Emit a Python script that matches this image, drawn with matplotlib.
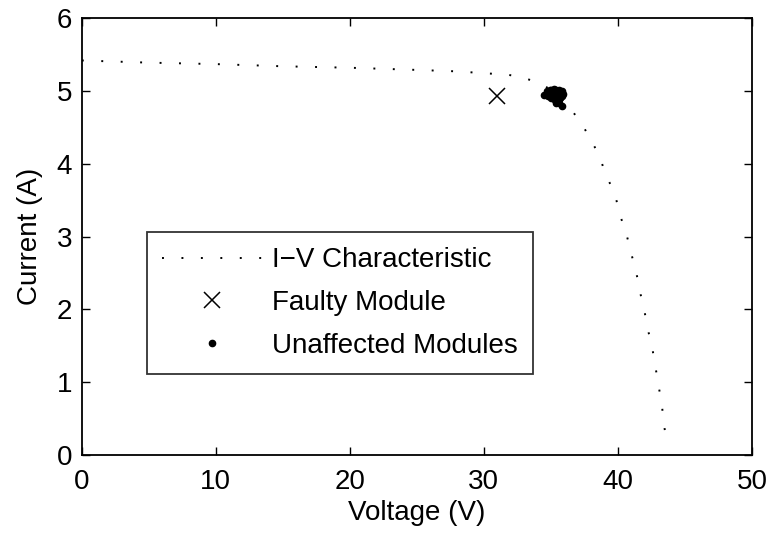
import matplotlib.pyplot as plt

plt.rcParams['font.family'] = ['Liberation Sans', 'DejaVu Sans']

# I-V characteristic
iv_voltage = [0.0, 5.0, 10.0, 15.0, 20.0, 25.0, 28.0, 30.4, 31.6, 32.8, 34.0, 35.0,
              36.0, 36.7, 37.4, 38.0, 38.6, 39.0, 39.5, 39.9, 40.2, 40.6, 40.9,
              41.2, 41.5, 41.7, 42.0, 42.2, 42.5, 42.7, 42.9, 43.1, 43.3, 43.4, 43.7]
iv_current = [5.42, 5.39, 5.37, 5.34, 5.32, 5.29, 5.27, 5.24, 5.23, 5.19, 5.12, 5.02,
              4.87, 4.70, 4.52, 4.32, 4.12, 3.90, 3.69, 3.49, 3.27, 3.06, 2.84,
              2.62, 2.40, 2.20, 1.96, 1.74, 1.54, 1.32, 1.10, 0.88, 0.66, 0.44, 0.15]

# faulty module
faulty_v = [31.0]
faulty_i = [4.93]

# unaffected modules (cluster near MPP)
ok_v = [34.5, 34.7, 34.9, 35.0, 35.1, 35.2, 35.3, 35.4, 35.5, 35.6, 35.7, 35.8,
        34.8, 35.0, 35.2, 35.4, 35.6, 35.8, 35.1, 35.3, 35.5, 35.7, 35.9, 35.4,
        35.6, 35.2, 34.9, 35.8, 35.5, 35.0]
ok_i = [4.95, 5.00, 4.98, 5.02, 4.96, 5.03, 4.99, 5.01, 4.97, 5.02, 4.95, 5.00,
        4.93, 4.90, 4.94, 4.92, 4.89, 4.93, 4.99, 4.88, 4.86, 4.91, 4.96, 4.84,
        4.83, 4.97, 5.01, 4.80, 4.91, 4.95]

fig = plt.figure(figsize=(7.72, 5.37), dpi=100)
ax = fig.add_axes([0.106, 0.153, 0.868, 0.813])

ax.plot(iv_voltage, iv_current, color='black', linewidth=1.4, linestyle=(0, (1, 9)),
        label='I\u2212V Characteristic')
ax.plot(faulty_v, faulty_i, linestyle='none', marker='x', color='black',
        markersize=11, markeredgewidth=1.1, label='Faulty Module')
ax.plot(ok_v, ok_i, linestyle='none', marker='o', color='black',
        markersize=4.5, label='Unaffected Modules')

ax.set_xlim(0, 50)
ax.set_ylim(0, 6)
ax.set_xticks([0, 10, 20, 30, 40, 50])
ax.set_yticks([0, 1, 2, 3, 4, 5, 6])
ax.tick_params(direction='in', length=6, width=1, labelsize=20, top=True, right=True)
ax.tick_params(axis='x', pad=10)
ax.tick_params(axis='y', pad=7)
for s in ax.spines.values():
    s.set_linewidth(1.3)

ax.set_xlabel('Voltage (V)', fontsize=20, labelpad=4)
ax.set_ylabel('Current (A)', fontsize=20, labelpad=10)

leg = ax.legend(loc='upper left', bbox_to_anchor=(0.097, 0.51), fontsize=20,
                frameon=True, fancybox=False, edgecolor='black',
                handlelength=3.6, borderpad=0.55, labelspacing=0.6,
                handletextpad=0.35, borderaxespad=0)
leg.get_frame().set_linewidth(1.3)

fig.savefig('out.png', dpi=100)
